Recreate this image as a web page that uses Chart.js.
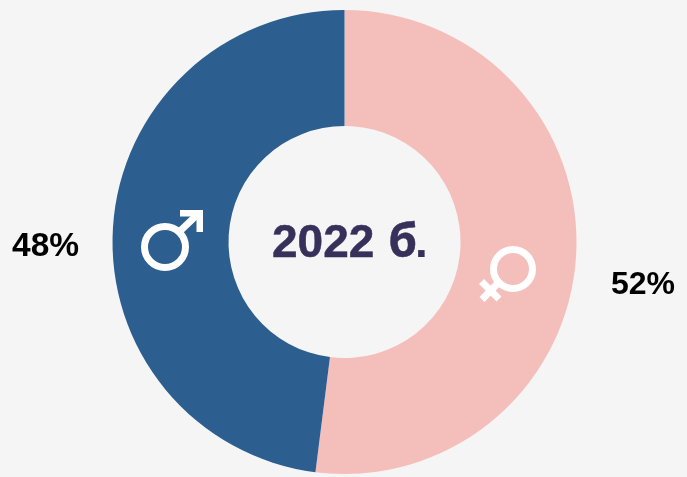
<!DOCTYPE html>
<html><head><meta charset="utf-8">
<style>html,body{margin:0;padding:0;background:#f5f5f5;overflow:hidden}canvas{display:block}</style>
<script src="https://cdn.jsdelivr.net/npm/chart.js@4"></script></head>
<body><canvas id="c" width="687" height="477"></canvas>
<script>
const categories = ['Жени', 'Мъже'];
const shares = [52, 48];
const sliceColors = ['#f4bfbb', '#2c5f8f'];
const centerYear = '2022';
const centerUnit = 'б';
const centerDot = '.';

const overlay = {
  id: 'overlay',
  afterDatasetsDraw(chart) {
    const ctx = chart.ctx, arc = chart.getDatasetMeta(0).data[0];
    const cx = arc.x, cy = arc.y;
    ctx.save();
    ctx.textBaseline = 'alphabetic';
    ctx.textAlign = 'left';
    ctx.fillStyle = '#37305a';
    ctx.strokeStyle = '#37305a';
    ctx.lineWidth = 0.5;
    ctx.font = 'bold 46px "Liberation Sans"';
    ctx.fillText(centerYear, 272, 257); ctx.strokeText(centerYear, 272, 257);
    ctx.fillText(centerDot, 415, 257);
    ctx.font = 'bold 46px "Open Sans"';
    ctx.fillText(centerUnit, 388.5, 257); ctx.strokeText(centerUnit, 388.5, 257);
    ctx.fillStyle = '#000';
    ctx.font = 'bold 33.5px "Liberation Sans"';
    ctx.fillText(shares[1] + '%', 12, 256);
    ctx.font = 'bold 32px "Liberation Sans"';
    ctx.fillText(shares[0] + '%', 611, 294);
    ctx.strokeStyle = '#fff';
    ctx.fillStyle = '#fff';
    ctx.lineWidth = 7;
    // male
    let x = cx - 179.5, y = cy + 5;
    ctx.beginPath(); ctx.arc(x, y, 20.5, 0, 2 * Math.PI); ctx.stroke();
    ctx.beginPath(); ctx.moveTo(x + 13, y - 14); ctx.lineTo(x + 34, y - 34); ctx.stroke();
    ctx.beginPath();
    ctx.moveTo(x + 15, y - 37);
    ctx.lineTo(x + 38, y - 37);
    ctx.lineTo(x + 38, y - 15);
    ctx.lineTo(x + 31.5, y - 15);
    ctx.lineTo(x + 31.5, y - 30.5);
    ctx.lineTo(x + 15, y - 30.5);
    ctx.closePath(); ctx.fill();
    // female
    x = cx + 168.5; y = cy + 27;
    ctx.beginPath(); ctx.arc(x, y, 19.5, 0, 2 * Math.PI); ctx.stroke();
    ctx.beginPath(); ctx.moveTo(x - 14, y + 13); ctx.lineTo(x - 31, y + 30.5);
    ctx.moveTo(x - 31.5, y + 12.5); ctx.lineTo(x - 14, y + 30); ctx.stroke();
    ctx.restore();
  }
};

new Chart(document.getElementById('c'), {
  type: 'doughnut',
  data: { labels: categories, datasets: [{ data: shares, backgroundColor: sliceColors, borderWidth: 0 }] },
  options: {
    responsive: false, animation: false, cutout: '50%',
    layout: { padding: { left: 112.5, right: 110.5, top: 10, bottom: 3 } },
    plugins: { legend: { display: false }, tooltip: { enabled: false } }
  },
  plugins: [overlay]
});
</script></body></html>
